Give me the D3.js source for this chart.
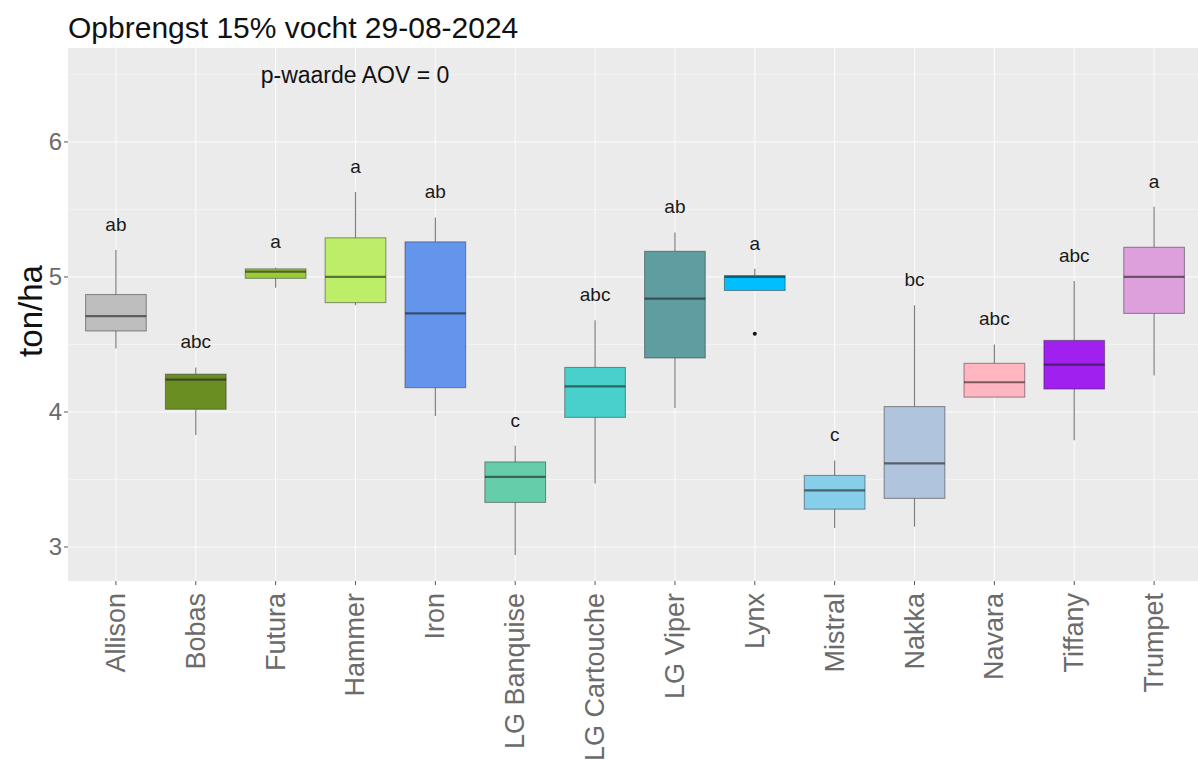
<!DOCTYPE html>
<html>
<head>
<meta charset="utf-8">
<script src="https://cdn.jsdelivr.net/npm/d3@7"></script>
<style>
  body { margin: 0; background: #fff; }
  svg { display: block; font-family: "Liberation Sans", Arial, sans-serif; }
</style>
</head>
<body>
<svg id="chart" width="1198" height="765"></svg>
<script>
// Yield per variety (ton/ha at 15% moisture): five-number summaries per box
const varieties = ["Allison", "Bobas", "Futura", "Hammer", "Iron", "LG Banquise", "LG Cartouche",
                   "LG Viper", "Lynx", "Mistral", "Nakka", "Navara", "Tiffany", "Trumpet"];
const whiskerLow  = [4.47, 3.83, 4.92, 4.79, 3.97, 2.94, 3.47, 4.03, 4.90, 3.14, 3.15, 4.11, 3.79, 4.27];
const boxLow      = [4.60, 4.02, 4.99, 4.81, 4.18, 3.33, 3.96, 4.40, 4.90, 3.28, 3.36, 4.11, 4.17, 4.73];
const medians     = [4.71, 4.24, 5.04, 5.00, 4.73, 3.52, 4.19, 4.84, 5.00, 3.42, 3.62, 4.22, 4.35, 5.00];
const boxHigh     = [4.87, 4.28, 5.06, 5.29, 5.26, 3.63, 4.33, 5.19, 5.01, 3.53, 4.04, 4.36, 4.53, 5.22];
const whiskerHigh = [5.20, 4.33, 5.07, 5.63, 5.44, 3.75, 4.68, 5.33, 5.06, 3.64, 4.79, 4.50, 4.97, 5.52];
const outliers    = [{variety: "Lynx", value: 4.58}];
const groupLetters = ["ab", "abc", "a", "a", "ab", "c", "abc", "ab", "a", "c", "bc", "abc", "abc", "a"];
const fills = ["#BEBEBE", "#6B8E23", "#9ACD32", "#BCEE68", "#6495ED", "#66CDAA", "#48D1CC",
               "#5F9EA0", "#00BFFF", "#87CEEB", "#B0C4DE", "#FFB6C1", "#A020F0", "#DDA0DD"];
const yTicks = [3, 4, 5, 6];
const yMinor = [2.5, 3.5, 4.5, 5.5, 6.5];

const svg = d3.select("#chart");
const panel = {left: 68, right: 1202, top: 48, bottom: 581};

const x = d3.scalePoint()
  .domain(varieties)
  .range([panel.left, panel.right])
  .padding(0.6);
const step = x.step();
const boxW = step * 0.76;

const y = d3.scaleLinear()
  .domain([2.748, 6.696])
  .range([panel.bottom, panel.top]);

// panel background
svg.append("rect")
  .attr("x", panel.left).attr("y", panel.top)
  .attr("width", panel.right - panel.left).attr("height", panel.bottom - panel.top)
  .attr("fill", "#EBEBEB");

const grid = svg.append("g");
grid.selectAll("line.minor").data(yMinor.filter(v => v > y.domain()[0] && v < y.domain()[1]))
  .join("line")
  .attr("x1", panel.left).attr("x2", panel.right)
  .attr("y1", d => y(d)).attr("y2", d => y(d))
  .attr("stroke", "#f7f7f7").attr("stroke-width", 0.7);
grid.selectAll("line.majorY").data(yTicks)
  .join("line")
  .attr("x1", panel.left).attr("x2", panel.right)
  .attr("y1", d => y(d)).attr("y2", d => y(d))
  .attr("stroke", "#fafafa").attr("stroke-width", 1.2);
grid.selectAll("line.majorX").data(varieties)
  .join("line")
  .attr("x1", d => x(d)).attr("x2", d => x(d))
  .attr("y1", panel.top).attr("y2", panel.bottom)
  .attr("stroke", "#fafafa").attr("stroke-width", 1.2);

// boxes
const rows = varieties.map((v, i) => ({
  v, lo: whiskerLow[i], q1: boxLow[i], med: medians[i], q3: boxHigh[i], hi: whiskerHigh[i],
  fill: fills[i], letter: groupLetters[i]
}));

const g = svg.append("g");
const box = g.selectAll("g.box").data(rows).join("g");

box.append("line")
  .attr("x1", d => x(d.v)).attr("x2", d => x(d.v))
  .attr("y1", d => y(d.q3)).attr("y2", d => y(d.hi))
  .attr("stroke", "#808080").attr("stroke-width", 1.2);
box.append("line")
  .attr("x1", d => x(d.v)).attr("x2", d => x(d.v))
  .attr("y1", d => y(d.q1)).attr("y2", d => y(d.lo))
  .attr("stroke", "#808080").attr("stroke-width", 1.2);
box.append("rect")
  .attr("x", d => x(d.v) - boxW / 2).attr("width", boxW)
  .attr("y", d => y(d.q3)).attr("height", d => Math.max(1, y(d.q1) - y(d.q3)))
  .attr("fill", d => d.fill)
  .attr("stroke", "rgba(40,40,40,0.45)").attr("stroke-width", 1.1);
box.append("line")
  .attr("x1", d => x(d.v) - boxW / 2).attr("x2", d => x(d.v) + boxW / 2)
  .attr("y1", d => y(d.med)).attr("y2", d => y(d.med))
  .attr("stroke", "rgba(30,30,30,0.6)").attr("stroke-width", 2.2);

// outliers
g.selectAll("circle.out").data(outliers).join("circle")
  .attr("cx", d => x(d.variety)).attr("cy", d => y(d.value))
  .attr("r", 2).attr("fill", "#111");

// significance letters above each box
box.append("text")
  .attr("x", d => x(d.v)).attr("y", d => y(d.hi + 0.19))
  .attr("text-anchor", "middle").attr("dominant-baseline", "central")
  .attr("font-size", 19).attr("fill", "#1a1a1a")
  .text(d => d.letter);

// y axis
const yAxis = svg.append("g");
yAxis.selectAll("line").data(yTicks).join("line")
  .attr("x1", panel.left - 4).attr("x2", panel.left)
  .attr("y1", d => y(d)).attr("y2", d => y(d))
  .attr("stroke", "#555").attr("stroke-width", 1);
yAxis.selectAll("text").data(yTicks).join("text")
  .attr("x", panel.left - 6).attr("y", d => y(d))
  .attr("text-anchor", "end").attr("dominant-baseline", "central")
  .attr("font-size", 24).attr("fill", "#6b6b6b")
  .text(d => d3.format("d")(d));

// x axis
const xAxis = svg.append("g");
xAxis.selectAll("line").data(varieties).join("line")
  .attr("x1", d => x(d)).attr("x2", d => x(d))
  .attr("y1", panel.bottom).attr("y2", panel.bottom + 4)
  .attr("stroke", "#555").attr("stroke-width", 1);
xAxis.selectAll("text").data(varieties).join("text")
  .attr("transform", d => `translate(${x(d)},${panel.bottom + 12}) rotate(-90)`)
  .attr("text-anchor", "end").attr("dominant-baseline", "central")
  .attr("font-size", 27).attr("fill", "#6b6b6b")
  .text(d => d);

// axis title
svg.append("text")
  .attr("transform", `translate(30,311) rotate(-90)`)
  .attr("text-anchor", "middle").attr("dominant-baseline", "central")
  .attr("font-size", 33).attr("fill", "#111")
  .text("ton/ha");

// title and annotation
svg.append("text")
  .attr("x", 68).attr("y", 38)
  .attr("font-size", 30).attr("fill", "#111")
  .text("Opbrengst 15% vocht 29-08-2024");
svg.append("text")
  .attr("x", 355).attr("y", 75)
  .attr("text-anchor", "middle").attr("dominant-baseline", "central")
  .attr("font-size", 23).attr("fill", "#111")
  .text("p-waarde AOV = 0");
</script>
</body>
</html>
